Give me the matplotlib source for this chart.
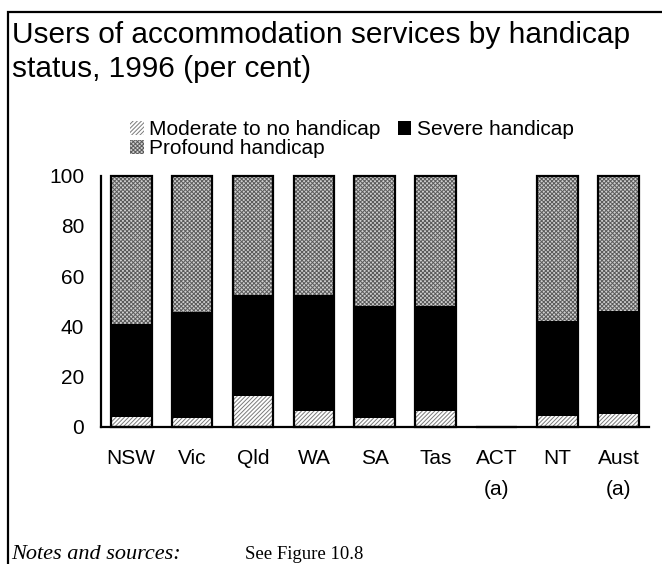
import matplotlib
matplotlib.use("Agg")
import matplotlib.pyplot as plt
from matplotlib.patches import Rectangle
import numpy as np

# Data (per cent)
states = ['NSW', 'Vic', 'Qld', 'WA', 'SA', 'Tas', 'ACT\n(a)', 'NT', 'Aust\n(a)']
moderate = [3.7, 3.3, 12.4, 6.1, 3.6, 6.1, 0.0, 4.1, 5.2]
severe = [37.1, 42.3, 40.1, 46.4, 44.6, 41.9, 0.0, 38.1, 41.0]
profound = [59.2, 54.4, 47.5, 47.5, 51.8, 52.0, 0.0, 57.8, 53.8]

plt.rcParams.update({
    'font.family': 'Liberation Sans',
    'hatch.linewidth': 0.7,
})

W, H = 662, 564
fig = plt.figure(figsize=(W / 100, H / 100), dpi=100)
ax = fig.add_axes([100.7 / W, 1 - 426.7 / H, (649 - 100.7) / W, (426.7 - 175.7) / H])

x = np.arange(len(states))
mod = np.array(moderate)
sev = np.array(severe)
pro = np.array(profound)
total = mod + sev + pro
bw = 0.67

b1 = ax.bar(x, mod, bw, color='white', edgecolor='#7a7a7a', hatch='////////',
            linewidth=0, label='Moderate to no handicap')
b2 = ax.bar(x, sev, bw, bottom=mod, color='black', linewidth=0,
            label='Severe handicap')
b3 = ax.bar(x, pro, bw, bottom=mod + sev, color='#cfcfcf', edgecolor='#5a5a5a',
            hatch='xxxxxxxx', linewidth=0, label='Profound handicap')
# outline around each full bar
ax.bar(x, total, bw, fill=False, edgecolor='black', linewidth=1.6, clip_on=False)

ax.set_xlim(-0.5, len(states) - 0.5)
ax.set_ylim(0, 100)
ax.set_yticks([0, 20, 40, 60, 80, 100])
ax.set_xticks(x)
ax.set_xticklabels(states, linespacing=1.8)
ax.tick_params(axis='both', length=0, labelsize=15)
ax.tick_params(axis='y', pad=12)
ax.tick_params(axis='x', pad=16)
for s in ['top', 'right']:
    ax.spines[s].set_visible(False)
for s in ['left', 'bottom']:
    ax.spines[s].set_linewidth(1.6)

leg = fig.legend([b1, b3, b2], ['Moderate to no handicap', 'Profound handicap', 'Severe handicap'],
                 ncol=2, loc='upper left', bbox_to_anchor=(130 / W, 1 - 120 / H),
                 frameon=False, fontsize=15, handlelength=0.65, handleheight=0.65,
                 handletextpad=0.25, columnspacing=0.85, labelspacing=0.0,
                 borderpad=0, borderaxespad=0)

fig.text(12 / W, 1 - 43 / H, 'Users of accommodation services by handicap',
         fontsize=21.5, va='baseline', ha='left')
fig.text(12 / W, 1 - 77 / H, 'status, 1996 (per cent)',
         fontsize=21.5, va='baseline', ha='left')

fig.text(11 / W, 1 - 559 / H, 'Notes and sources:', family='Liberation Serif',
         style='italic', fontsize=16, va='baseline')
fig.text(245 / W, 1 - 559 / H, 'See Figure 10.8', family='Liberation Serif',
         fontsize=13.5, va='baseline')

# frame round the whole exhibit (cut off at right and bottom)
fig.patches.append(Rectangle((8 / W, -0.1), 1.0, 1 - 12 / H + 0.1, transform=fig.transFigure,
                             fill=False, edgecolor='black', linewidth=1.6))

fig.savefig('out.png', dpi=100)
